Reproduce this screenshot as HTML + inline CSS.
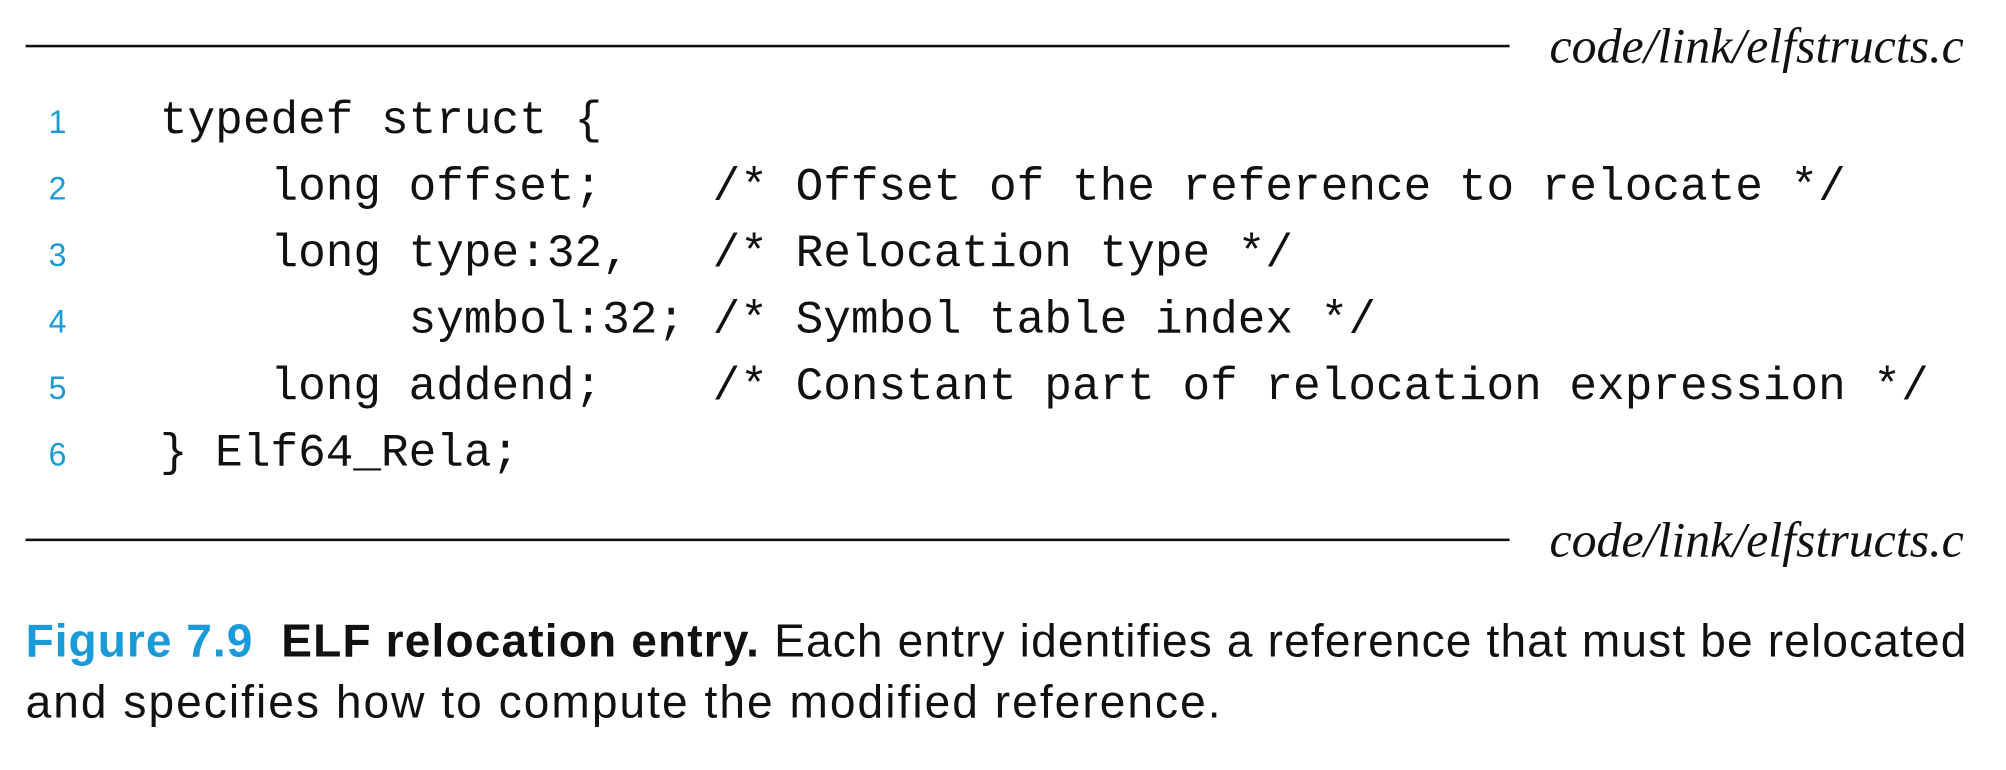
<!DOCTYPE html>
<html><head><meta charset="utf-8"><style>
html,body{margin:0;padding:0;background:#fff;width:2006px;height:770px;overflow:hidden}
#wrap{position:absolute;left:0;top:0;width:1568px;height:602px;transform:scale(1.2793);transform-origin:0 0}
.rule{position:absolute;left:20px;width:1160px;height:2px;background:#111}
.file{position:absolute;right:33px;font-family:"Liberation Serif",serif;font-style:italic;font-size:39px;color:#111}
.ln{position:absolute;left:38px;font-family:"Liberation Sans",sans-serif;font-size:25px;color:#1a9ad6}
.code{position:absolute;left:125px;font-family:"Liberation Mono",monospace;font-size:36px;color:#111;white-space:pre}
.cap{position:absolute;left:20px;font-family:"Liberation Sans",sans-serif;font-size:36px;color:#111;white-space:nowrap}
.fig{color:#1a9ad6;font-weight:bold}
</style></head><body><div id="wrap">
<div class="rule" style="top:35px"></div>
<div class="file" style="top:14px">code/link/elfstructs.c</div>
<div class="ln" style="top:82px">1</div>
<div class="ln" style="top:134px">2</div>
<div class="ln" style="top:186px">3</div>
<div class="ln" style="top:238px">4</div>
<div class="ln" style="top:290px">5</div>
<div class="ln" style="top:342px">6</div>
<div class="code" style="top:74px">typedef struct {</div>
<div class="code" style="top:126px">    long offset;    /* Offset of the reference to relocate */</div>
<div class="code" style="top:178px">    long type:32,   /* Relocation type */</div>
<div class="code" style="top:230px">         symbol:32; /* Symbol table index */</div>
<div class="code" style="top:282px">    long addend;    /* Constant part of relocation expression */</div>
<div class="code" style="top:334px">} Elf64_Rela;</div>
<div class="rule" style="top:421px"></div>
<div class="file" style="top:400px">code/link/elfstructs.c</div>
<div class="cap" style="top:480px;letter-spacing:0.9px"><span class="fig" style="letter-spacing:0.8px">Figure 7.9</span>&nbsp;&nbsp;<b>ELF relocation entry.</b> Each entry identifies a reference that must be relocated</div>
<div class="cap" style="top:528px;letter-spacing:1.6px">and specifies how to compute the modified reference.</div>
</div></body></html>
